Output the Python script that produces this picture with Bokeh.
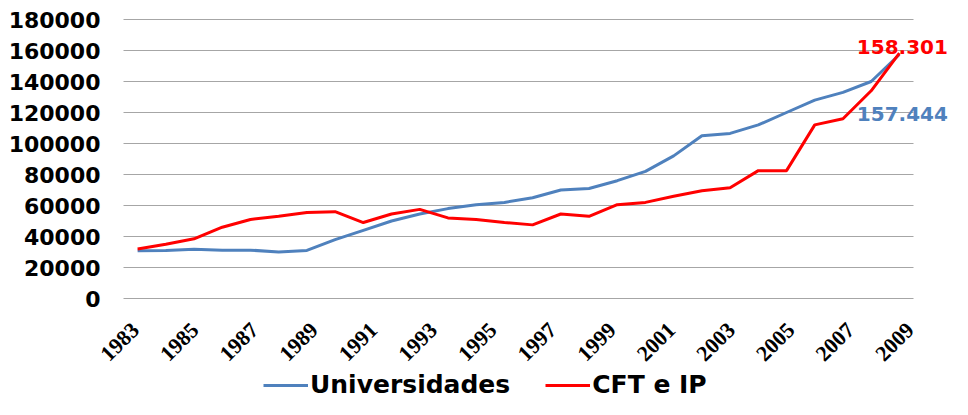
from bokeh.plotting import figure
from bokeh.models import (Range1d, FixedTicker, Legend, LegendItem, Label,
                          NumeralTickFormatter, ColumnDataSource)
from bokeh.embed import file_html
from bokeh.resources import INLINE
import math

years = list(range(1983, 2011))
universidades = [30800, 31000, 31800, 31200, 31200, 30000, 31000, 38000, 44000, 50000,
                 54500, 58000, 60500, 62000, 65000, 70000, 71000, 76000, 82000, 92000,
                 105000, 106500, 112000, 120000, 128000, 133000, 140000, 157444]
cft_ip = [32000, 35000, 38500, 46000, 51000, 53000, 55500, 56000, 49000, 54500,
          57500, 52000, 51000, 49000, 47500, 54500, 53000, 60500, 62000, 66000,
          69500, 71500, 82500, 82500, 112000, 116000, 134000, 158301]
y_ticks = list(range(0, 180001, 20000))
x_ticks = years[::2]
x_tick_labels = [str(y) for y in x_ticks]
last_u_label = "157.444"
last_c_label = "158.301"

BLUE = "#4F81BD"
RED = "#FF0000"
FONT = "DejaVu Sans"

# ---- layout (screen pixels) ----
W, H = 952, 399
FRAME_LEFT = 90                    # frame starts left of the grid so year labels fit
GRID_LEFT = 123                    # where the gridded area starts
FRAME_W = W - FRAME_LEFT - 2
TOP_PX, ZERO_PX = 19, 298          # pixel rows of the top tick and of zero
PLOT_W = 790                       # width of the gridded area
PX_PER_YEAR = PLOT_W / len(years)
x_start = years[0] - 0.5 - (GRID_LEFT - FRAME_LEFT) / PX_PER_YEAR
x_end = x_start + FRAME_W / PX_PER_YEAR
units_per_px = y_ticks[-1] / (ZERO_PX - TOP_PX)
y_end = y_ticks[-1] + TOP_PX * units_per_px
y_start = -(H - ZERO_PX) * units_per_px

# tick-label positions (labels are spread slightly wider than the points)
LAB_PX = 29.8
lab_start = years[0] - (135 - FRAME_LEFT) / LAB_PX
lab_end = lab_start + FRAME_W / LAB_PX

p = figure(width=W, height=H, output_backend="svg", toolbar_location=None,
           x_range=Range1d(x_start, x_end), y_range=Range1d(y_start, y_end),
           x_axis_location=None,
           min_border_left=FRAME_LEFT, min_border_right=2, min_border_top=0,
           min_border_bottom=0)
p.outline_line_color = None
p.background_fill_color = "white"
p.border_fill_color = "white"
p.xgrid.visible = False
p.ygrid.visible = False
p.extra_x_ranges = {"lab": Range1d(lab_start, lab_end)}

# horizontal gridlines limited to the category area
p.segment(x0=[years[0] - 0.5] * len(y_ticks), x1=[years[-1] + 0.5] * len(y_ticks),
          y0=y_ticks, y1=y_ticks, line_color="#A6A6A6", line_width=1)

p.yaxis.ticker = FixedTicker(ticks=y_ticks)
p.yaxis.formatter = NumeralTickFormatter(format="0")
p.yaxis.axis_line_color = None
p.yaxis.major_tick_line_color = None
p.yaxis.minor_tick_line_color = None
p.yaxis.major_tick_out = 0
p.yaxis.major_label_standoff = 23 - (GRID_LEFT - FRAME_LEFT)
p.yaxis.major_label_text_font = FONT
p.yaxis.major_label_text_font_style = "bold"
p.yaxis.major_label_text_font_size = "22px"
p.yaxis.major_label_text_color = "black"

# category (year) labels, rotated 45 degrees below the zero line
src = ColumnDataSource(dict(x=x_ticks, y=[0] * len(x_ticks), t=x_tick_labels))
p.text(x="x", y="y", text="t", source=src, x_range_name="lab",
       angle=math.pi / 4, text_align="right", text_baseline="middle",
       y_offset=28, text_font="DejaVu Sans", text_font_style="bold",
       text_font_size="22px", text_color="black")

r1 = p.line(years, universidades, line_color=BLUE, line_width=3)
r2 = p.line(years, cft_ip, line_color=RED, line_width=3)

legend = Legend(items=[LegendItem(label="Universidades", renderers=[r1]),
                       LegendItem(label="CFT e IP", renderers=[r2])],
                orientation="horizontal", location=(263 - FRAME_LEFT, 0),
                border_line_color=None, background_fill_alpha=0,
                padding=0, margin=0, spacing=35, label_standoff=2,
                glyph_width=45, glyph_height=20,
                label_text_font=FONT, label_text_font_style="bold",
                label_text_font_size="25px", label_text_color="black")
p.add_layout(legend, "center")

lab_c = Label(x=years[-1], y=cft_ip[-1], text=last_c_label, text_color=RED,
              text_font=FONT, text_font_style="bold", text_font_size="20px",
              text_align="center", text_baseline="alphabetic", x_offset=3, y_offset=6)
lab_u = Label(x=years[-1], y=universidades[-1], text=last_u_label, text_color=BLUE,
              text_font=FONT, text_font_style="bold", text_font_size="20px",
              text_align="center", text_baseline="alphabetic", x_offset=3, y_offset=-60)
p.add_layout(lab_c)
p.add_layout(lab_u)

open("out.html", "w").write(file_html(p, INLINE))
